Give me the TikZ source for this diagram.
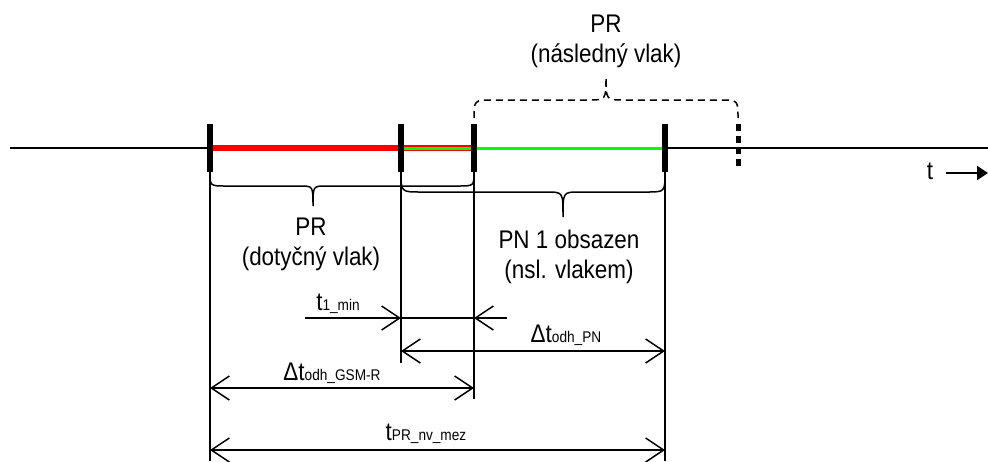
\documentclass[tikz,border=0pt]{standalone}
\usepackage{fontspec}
\setmainfont{Liberation Sans}[FakeStretch=0.88]
\usetikzlibrary{arrows.meta, positioning}
\definecolor{occRed}{HTML}{FF0000}
\definecolor{occGreen}{HTML}{00FF00}
\newcommand{\subtxt}[1]{{\fontsize{15.5}{15.5}\selectfont #1}}

\begin{document}
\begin{tikzpicture}[
    x=1pt, y=-1pt,
    axis/.style={line width=2pt},
    tickmark/.style={line width=6pt},
    ext/.style={line width=1.5pt},
    brace/.style={line width=1.5pt},
    lbl/.style={font=\fontsize{25.5}{30}\selectfont, align=center, inner sep=0pt},
    dim/.style={{Straight Barb[length=18pt,width=24pt]}-{Straight Barb[length=18pt,width=24pt]}, line width=1.5pt},
    dimr/.style={-{Straight Barb[length=18pt,width=24pt]}, line width=1.5pt},
]
\useasboundingbox (0,0) rectangle (988,461);

% time axis
\coordinate (a0) at (10,148);
\coordinate (a1) at (988,148);
\draw[axis] (a0) -- (a1);

\foreach \x/\n in {210/1,401/2,474/3,665/4} {
    \coordinate (k\n) at (\x,148);
    \coordinate (k\n t) at (\x,124);
    \coordinate (k\n b) at (\x,172);
}
\coordinate (k5t) at (738,124);
\coordinate (k5b) at (738,166);

% occupation
\draw[line width=6pt, occRed] (k1) -- (k3);
\draw[line width=3pt, occGreen] (k2) -- (k4);

\foreach \n in {1,...,4} \draw[tickmark] (k\n t) -- (k\n b);
\draw[line width=5pt, dash pattern=on 7pt off 4.5pt] (k5t) -- (k5b);

% extension lines
\coordinate (e1) at (210,461);
\coordinate (e2) at (401,363);
\coordinate (e3) at (474,399);
\coordinate (e4) at (665,461);
\draw[ext] (k1b) -- (e1);
\draw[ext] (k2b) -- (e2);
\draw[ext] (k3b) -- (e3);
\draw[ext] (k4b) -- (e4);

% braces
\draw[brace] (k1b) .. controls (210,186) .. (226,186) -- (300,186)
    .. controls (313,186) .. (313,206) .. controls (313,186) .. (326,186)
    -- (458,186) .. controls (474,186) .. (k3b);
\draw[brace] (k2b) .. controls (401,192) .. (421,192) -- (547,192)
    .. controls (563,192) .. (563,217) .. controls (563,192) .. (579,192)
    -- (647,192) .. controls (665,192) .. (k4b);
\coordinate (n1) at (474,118);
\coordinate (n2) at (738,118);
\draw[brace, dash pattern=on 7pt off 5pt] (n1) .. controls (474,100) .. (494,100) -- (588,100)
    .. controls (606,100) .. (606,77) .. controls (606,100) .. (624,100)
    -- (720,100) .. controls (738,100) .. (n2);

\node[lbl] (prNext) at (606,41) {PR\\(následný vlak)};
\node[lbl] (prCur) at (311,244) {PR\\(dotyčný vlak)};
\node[lbl] (pnOcc) at (569,257) {PN 1 obsazen\\(nsl. vlakem)};

% dimensions
\coordinate (m0) at (305,318);
\coordinate (m1) at (507,318);
\draw[dimr] (m0) -- (m0 -| k2b);
\draw[dimr] (m1) -- (m1 -| k3b);
\draw[ext] (m0 -| k2b) -- (m1 -| k3b);
\draw[dim] (k2b |- 0,351) -- (k4b |- 0,351);
\draw[dim] (k1b |- 0,388) -- (k3b |- 0,388);
\draw[dim] (k1b |- 0,450) -- (k4b |- 0,450);

\node[lbl, anchor=base] (tMin) at (338,310) {t\subtxt{1\_min}};
\node[lbl, anchor=base] (tPN) at (566,342) {Δt\subtxt{odh\_PN}};
\node[lbl, anchor=base] (tGSM) at (332,380) {Δt\subtxt{odh\_GSM-R}};
\node[lbl, anchor=base] (tMez) at (426,440) {t\subtxt{PR\_nv\_mez}};

% time arrow
\node[lbl, anchor=base] (tAxis) at (930,179) {t};
\coordinate (ta) at (946,173);
\coordinate (tb) at (988,173);
\draw[line width=2pt, -{Triangle[length=11pt,width=14pt]}] (ta) -- (tb);

\end{tikzpicture}
\end{document}
